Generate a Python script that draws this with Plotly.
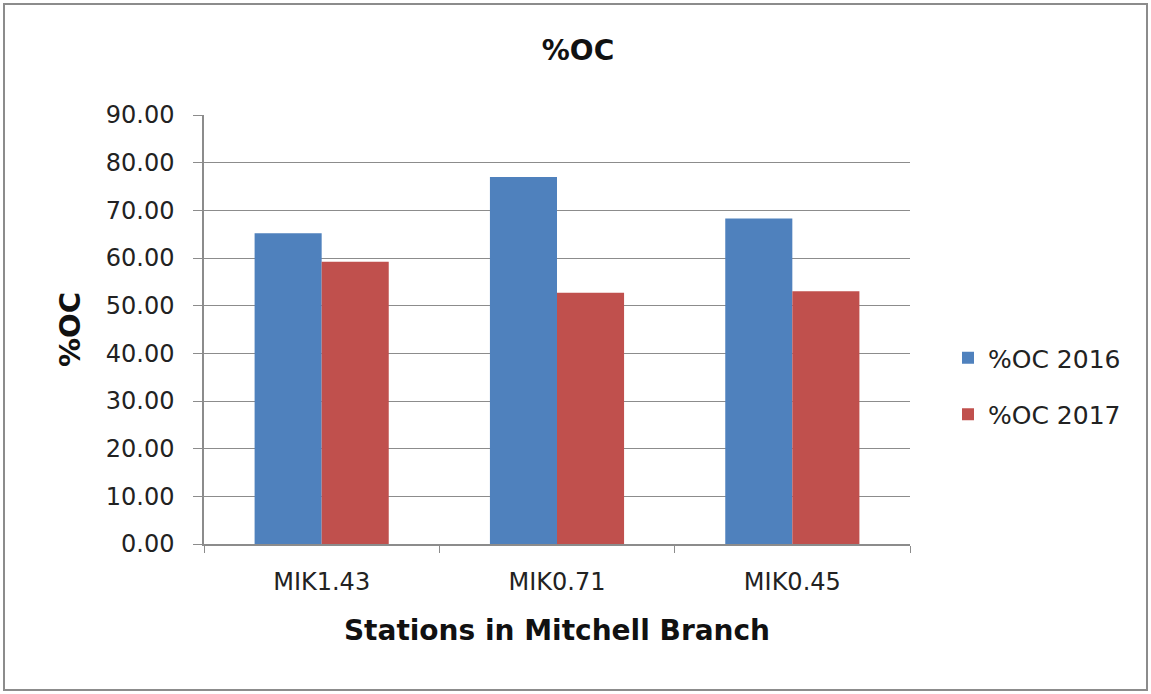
import plotly.graph_objects as go

stations = ["MIK1.43", "MIK0.71", "MIK0.45"]
oc_2016 = [65.2, 77.0, 68.3]
oc_2017 = [59.2, 52.7, 53.0]
series_names = ["%OC 2016", "%OC 2017"]
y_ticks = [0, 10, 20, 30, 40, 50, 60, 70, 80, 90]

W, H = 1151, 694
L, R, T, B = 204, 241, 115, 150
pw, ph = W - L - R, H - T - B

font_family = "DejaVu Sans, Open Sans, sans-serif"

fig = go.Figure()
fig.add_trace(go.Bar(x=stations, y=oc_2016, name=series_names[0],
                     marker=dict(color="#4F81BD", line=dict(width=0)),
                     legendgroup="a"))
fig.add_trace(go.Bar(x=stations, y=oc_2017, name=series_names[1],
                     marker=dict(color="#C0504D", line=dict(width=0)),
                     legendgroup="b"))

fig.update_layout(
    width=W, height=H,
    margin=dict(l=L, r=R, t=T, b=B),
    paper_bgcolor="white", plot_bgcolor="white",
    barmode="group", bargap=0.43, bargroupgap=0,
    font=dict(family=font_family, color="#222222"),
    title=dict(text="<b>%OC</b>", x=578 / W, xanchor="center",
               y=1 - 50 / H, yanchor="middle",
               font=dict(size=28, color="#111111")),
    legend=dict(x=(948 - L) / pw, xanchor="left", y=(544 - 386) / ph, yanchor="middle",
                font=dict(size=25, color="#222222"), traceorder="grouped",
                tracegroupgap=21, bgcolor="rgba(0,0,0,0)"),
    xaxis=dict(
        title=dict(text="<b>Stations in Mitchell Branch</b>", font=dict(size=28, color="#111111"), standoff=26),
        showline=True, linecolor="#8c8c8c", linewidth=1.5,
        ticks="outside", tickson="boundaries", ticklen=7, tickcolor="#8c8c8c",
        tickfont=dict(size=24, color="#222222"), ticklabelstandoff=15,
        showgrid=False, automargin=False,
    ),
    yaxis=dict(
        title=dict(text="<b>%OC</b>", font=dict(size=29, color="#111111"), standoff=17),
        range=[0, 90], tickvals=y_ticks, tickformat=".2f",
        showline=True, linecolor="#8c8c8c", linewidth=1.5,
        ticks="outside", ticklen=9, tickcolor="#8c8c8c",
        tickfont=dict(size=24, color="#222222"), ticklabelstandoff=14,
        showgrid=True, gridcolor="#8c8c8c", gridwidth=1.2,
        zeroline=False, automargin=False,
    ),
)

# outer frame of the chart
fig.add_shape(type="rect", xref="paper", yref="paper",
              x0=(4 - L) / pw, x1=(1147 - L) / pw,
              y0=(T + ph - 690) / ph, y1=(T + ph - 4) / ph,
              line=dict(color="#8c8c8c", width=2), layer="below")

fig.write_html("out.html", config={"displayModeBar": False},
               post_script="document.body.style.margin='0px';document.body.style.overflow='hidden';")
